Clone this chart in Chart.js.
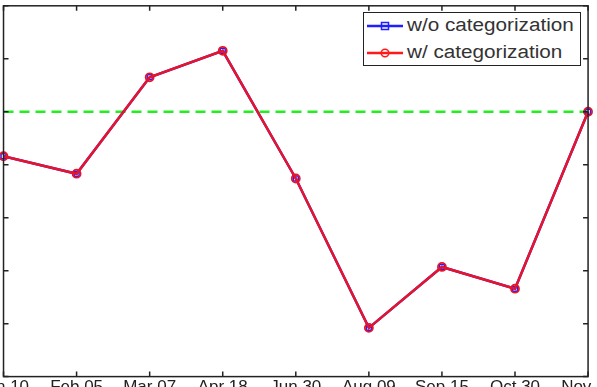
<!DOCTYPE html>
<html>
<head>
<meta charset="utf-8">
<script src="https://cdn.jsdelivr.net/npm/chart.js@4.4.1/dist/chart.umd.min.js"></script>
<style>
  html, body { margin: 0; padding: 0; background: #fff; overflow: hidden; }
  /* canvas wider than the window so the edge labels are cut like the figure */
  #wrap { position: absolute; left: -23px; top: 0; width: 639px; height: 402px; }
  #legend {
    position: absolute; left: 363px; top: 12px; width: 216px; height: 52px;
    border: 1.5px solid #222; background: #fff;
    font-family: "Liberation Sans", Arial, sans-serif; font-size: 18px; color: #333;
  }
  .row { position: absolute; left: 2px; height: 20px; white-space: nowrap; }
  .row svg { position: absolute; left: 0; top: 4px; }
  .row span { position: absolute; left: 41px; top: -1px; display: inline-block;
    transform: scaleX(1.15); transform-origin: left center; }
</style>
</head>
<body>
<div id="wrap"><canvas id="c" width="639" height="402"></canvas></div>
<div id="legend">
  <div class="row" style="top:3px">
    <svg width="38" height="12"><line x1="1" y1="6" x2="37" y2="6" stroke="#1f1fff" stroke-width="2.5"/>
      <rect x="15.5" y="2.5" width="7" height="7" fill="none" stroke="#1f1fff" stroke-width="1.5"/></svg>
    <span>w/o categorization</span>
  </div>
  <div class="row" style="top:30px">
    <svg width="38" height="12"><line x1="1" y1="6" x2="37" y2="6" stroke="#ff1a1a" stroke-width="2.5"/>
      <circle cx="19" cy="6" r="3.8" fill="none" stroke="#ff1a1a" stroke-width="1.5"/></svg>
    <span>w/ categorization</span>
  </div>
</div>
<script>
// x categories (dates), tops of labels only visible in the figure
const categories = ['Jan 10', 'Feb 05', 'Mar 07', 'Apr 18', 'Jun 30', 'Aug 09', 'Sep 15', 'Oct 30', 'Nov 14'];
// both series overlap exactly
const withoutCategorization = [4.16, 3.83, 5.65, 6.15, 3.74, 0.92, 2.07, 1.66, 5.0];
const withCategorization = [4.16, 3.83, 5.65, 6.15, 3.74, 0.92, 2.07, 1.66, 5.0];
const thresholdValue = 5;
const yMin = 0, yMax = 7, yStep = 1;

// green dashed reference line, drawn under the series
const thresholdLine = {
  id: 'thresholdLine',
  beforeDatasetsDraw(chart) {
    const { ctx, chartArea, scales } = chart;
    const y = scales.y.getPixelForValue(thresholdValue);
    ctx.save();
    ctx.strokeStyle = '#22ee22';
    ctx.lineWidth = 2.5;
    ctx.setLineDash([10, 6]);
    ctx.beginPath();
    ctx.moveTo(chartArea.left, y);
    ctx.lineTo(chartArea.right, y);
    ctx.stroke();
    ctx.restore();
  }
};

// matlab style box with inward ticks
const boxAxes = {
  id: 'boxAxes',
  afterDraw(chart) {
    const { ctx, chartArea, scales } = chart;
    const { left, right, top, bottom } = chartArea;
    const len = 5;
    ctx.save();
    ctx.strokeStyle = '#222';
    ctx.lineWidth = 1.5;
    ctx.beginPath();
    scales.x.ticks.forEach((t, i) => {
      const x = scales.x.getPixelForTick(i);
      ctx.moveTo(x, bottom); ctx.lineTo(x, bottom - len);
      ctx.moveTo(x, top); ctx.lineTo(x, top + len);
    });
    scales.y.ticks.forEach((t, i) => {
      const y = scales.y.getPixelForTick(i);
      ctx.moveTo(left, y); ctx.lineTo(left + len, y);
      ctx.moveTo(right, y); ctx.lineTo(right - len, y);
    });
    ctx.stroke();
    ctx.strokeRect(left, top, right - left, bottom - top);
    ctx.restore();
  }
};

new Chart(document.getElementById('c'), {
  type: 'line',
  data: {
    labels: categories,
    datasets: [
      {
        label: 'w/ categorization',
        data: withCategorization,
        borderColor: '#e8142a',
        borderWidth: 2.5,
        pointStyle: 'circle',
        pointRadius: 4,
        pointBorderWidth: 1.8,
        pointBorderColor: '#e8142a',
        pointBackgroundColor: 'rgba(0,0,0,0)',
        tension: 0,
        order: 0
      },
      {
        label: 'w/o categorization',
        data: withoutCategorization,
        borderColor: '#2020ff',
        borderWidth: 2.5,
        pointStyle: 'rect',
        pointRadius: 3.5,
        pointBorderWidth: 1.5,
        pointBorderColor: '#2020ff',
        pointBackgroundColor: 'rgba(0,0,0,0)',
        tension: 0,
        order: 1
      }
    ]
  },
  options: {
    responsive: false,
    animation: false,
    layout: { padding: { left: 3, right: 9, top: 4, bottom: 3 } },
    plugins: { legend: { display: false }, tooltip: { enabled: false } },
    scales: {
      x: {
        grid: { display: false, drawTicks: false },
        border: { display: false },
        ticks: {
          color: '#222',
          padding: 1,
          maxRotation: 0,
          autoSkip: false,
          font: { family: '"Liberation Sans", Arial, sans-serif', size: 17 }
        }
      },
      y: {
        min: yMin,
        max: yMax,
        grid: { display: false, drawTicks: false },
        border: { display: false },
        ticks: { display: false, stepSize: yStep }
      }
    }
  },
  plugins: [thresholdLine, boxAxes]
});
</script>
</body>
</html>
